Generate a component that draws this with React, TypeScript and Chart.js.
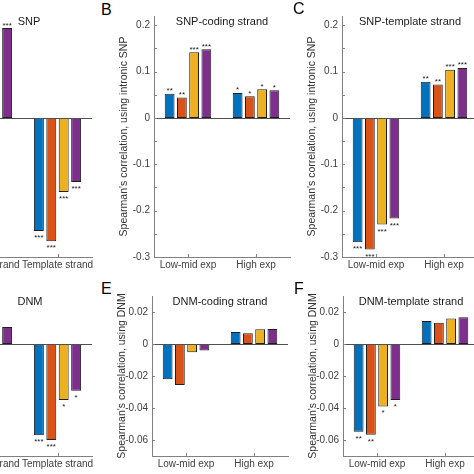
import React, { useEffect, useRef } from 'react';
import { Chart, registerables } from 'chart.js';

Chart.register(...registerables);

const FONT = '"Liberation Sans", Arial, Helvetica, sans-serif';
Chart.defaults.font.family = FONT;

// ---------- data ----------
const seriesColors = ['#0072BD', '#D95319', '#EDB120', '#7E2F8E'];
const strandCategories = ['Coding strand', 'Template strand'];
const expCategories = ['Low-mid exp', 'High exp'];

// each inner array: one colour series, values for [category 1, category 2]
const snpAll = [[0.12, -0.244], [0.11, -0.266], [0.19, -0.16], [0.194, -0.138]];
const snpAllStars = [['***', '***'], ['***', '***'], ['***', '***'], ['***', '***']];

const snpCoding = [[0.052, 0.054], [0.044, 0.047], [0.142, 0.062], [0.148, 0.06]];
const snpCodingStars = [['**', '*'], ['**', '*'], ['***', '*'], ['***', '*']];

const snpTemplate = [[-0.268, 0.078], [-0.284, 0.072], [-0.23, 0.104], [-0.217, 0.108]];
const snpTemplateStars = [['***', '**'], ['***', '**'], ['***', '***'], ['***', '***']];

const dnmAll = [[0.005, -0.057], [0.004, -0.06], [0.008, -0.035], [0.0106, -0.0292]];
const dnmAllStars = [['', '***'], ['', '***'], ['', '*'], ['', '*']];

const dnmCoding = [[-0.022, 0.0075], [-0.0256, 0.0067], [-0.0052, 0.0092], [-0.004, 0.0094]];
const dnmCodingStars = [['', ''], ['', ''], ['', ''], ['', '']];

const dnmTemplate = [[-0.0548, 0.0144], [-0.0567, 0.0133], [-0.039, 0.016], [-0.035, 0.0167]];
const dnmTemplateStars = [['**', ''], ['**', ''], ['*', ''], ['*', '']];

const snpRange = [-0.3, 0.22];
const snpTickValues = [-0.3, -0.25, -0.2, -0.15, -0.1, -0.05, 0, 0.05, 0.1, 0.15, 0.2];
const snpTickLabels = ['-0.3', '', '-0.2', '', '-0.1', '', '0', '', '0.1', '', '0.2'];

const dnmRange = [-0.07, 0.03];
const dnmTickValues = [-0.06, -0.04, -0.02, 0, 0.02];
const dnmTickLabels = ['-0.06', '-0.04', '-0.02', '0', '0.02'];

const snpYTitle = "Spearman's correlation, using intronic SNP";
const dnmYTitle = "Spearman's correlation, using DNM";

// ---------- layout ----------
const YW = 36; // y-axis box width
const PT = 12; // top padding
const PR = 6; // right padding
const XH = 22; // x-axis box height

type Area = { l: number; r: number; t: number; b: number };

type PanelProps = {
  area: Area;
  labels: string[];
  values: number[][];
  stars: string[][];
  title: string;
  titleDx?: number;
  yTitle: string | null;
  range: number[];
  tickValues: number[];
  tickLabels: string[];
  showY: boolean;
};

function Panel(p: PanelProps) {
  const ref = useRef<HTMLCanvasElement | null>(null);
  const w = p.area.r - p.area.l + YW + PR;
  const h = p.area.b - p.area.t + PT + XH;

  useEffect(() => {
    if (!ref.current) return;
    const decor = {
      id: 'decor',
      afterDatasetsDraw(chart: any) {
        const { ctx, chartArea } = chart;
        const { left, right, top, bottom } = chartArea;
        const x = chart.scales.x;
        const y = chart.scales.y;
        ctx.save();
        // baseline at zero
        const y0 = Math.round(y.getPixelForValue(0)) + 0.5;
        ctx.strokeStyle = '#505050';
        ctx.lineWidth = 1;
        ctx.beginPath();
        ctx.moveTo(left, y0);
        ctx.lineTo(right, y0);
        ctx.stroke();
        // inward tick marks
        ctx.strokeStyle = '#808080';
        ctx.beginPath();
        y.ticks.forEach((t: any) => {
          const py = Math.round(y.getPixelForValue(t.value)) + 0.5;
          ctx.moveTo(left, py);
          ctx.lineTo(left + 3, py);
        });
        x.ticks.forEach((_t: any, i: number) => {
          const px = Math.round(x.getPixelForTick(i)) + 0.5;
          ctx.moveTo(px, bottom);
          ctx.lineTo(px, bottom - 3);
        });
        ctx.stroke();
        // significance stars
        ctx.font = `8px ${FONT}`;
        ctx.fillStyle = '#1a1a1a';
        ctx.textAlign = 'center';
        ctx.textBaseline = 'alphabetic';
        chart.data.datasets.forEach((ds: any, i: number) => {
          const meta = chart.getDatasetMeta(i);
          meta.data.forEach((el: any, j: number) => {
            const s = p.stars[i] && p.stars[i][j];
            if (!s) return;
            const v = ds.data[j];
            const yy = v >= 0 ? el.y - 0.5 : el.y + 9;
            ctx.fillText(s, el.x, yy);
          });
        });
        // panel title
        ctx.font = `11px ${FONT}`;
        ctx.fillStyle = '#1a1a1a';
        ctx.textBaseline = 'middle';
        ctx.fillText(p.title, (left + right) / 2 + (p.titleDx || 0), top + 6);
        ctx.restore();
      },
    };

    const chart = new Chart(ref.current, {
      type: 'bar',
      data: {
        labels: p.labels,
        datasets: p.values.map((v, i) => ({
          data: v,
          backgroundColor: seriesColors[i],
          borderColor: '#1f1f1f',
          borderWidth: 1,
          borderSkipped: false,
          categoryPercentage: 0.72,
          barPercentage: 0.8,
        })),
      },
      options: {
        responsive: false,
        maintainAspectRatio: false,
        animation: false,
        events: [],
        layout: { padding: { top: PT, right: PR, left: 0, bottom: 0 } },
        plugins: {
          legend: { display: false },
          tooltip: { enabled: false },
          title: { display: false },
        },
        scales: {
          x: {
            type: 'category',
            offset: true,
            grid: { display: false, drawTicks: false },
            border: { display: true, color: '#808080', width: 1 },
            ticks: {
              font: { size: 10, family: FONT },
              color: '#404040',
              padding: 2,
              maxRotation: 0,
              autoSkip: false,
            },
            afterFit: (s: any) => {
              s.height = XH;
            },
          },
          y: {
            type: 'linear',
            min: p.range[0],
            max: p.range[1],
            grid: { display: false, drawTicks: false },
            border: { display: true, color: '#808080', width: 1 },
            ticks: {
              display: p.showY,
              font: { size: 10, family: FONT },
              color: '#404040',
              padding: 4,
              callback: (_v: any, i: number) => p.tickLabels[i] ?? '',
            },
            afterBuildTicks: (s: any) => {
              s.ticks = p.tickValues.map((v) => ({ value: v }));
            },
            afterFit: (s: any) => {
              s.width = YW;
            },
            title: {
              display: !!p.yTitle,
              text: p.yTitle || '',
              font: { size: 10.5, family: FONT },
              color: '#333',
              padding: { top: 0, bottom: 0 },
            },
          },
        },
      } as any,
      plugins: [decor],
    });
    return () => chart.destroy();
  }, []);

  return (
    <canvas
      ref={ref}
      width={w}
      height={h}
      style={{
        position: 'absolute',
        left: p.area.l - YW,
        top: p.area.t - PT,
        width: w,
        height: h,
        display: 'block',
      }}
    />
  );
}

const letterStyle: React.CSSProperties = {
  position: 'absolute',
  fontFamily: FONT,
  fontSize: 16,
  color: '#000',
  lineHeight: 'normal',
};

export default function App() {
  return (
    <div
      style={{
        position: 'fixed',
        left: 0,
        top: 0,
        width: 474,
        height: 474,
        overflow: 'hidden',
        background: '#fff',
      }}
    >
      <Panel area={{ l: -46, r: 92, t: 16, b: 257 }} labels={strandCategories} values={snpAll} stars={snpAllStars}
        title="SNP" titleDx={6} yTitle={null} range={snpRange} tickValues={snpTickValues} tickLabels={snpTickLabels} showY={false} />
      <Panel area={{ l: 154, r: 290, t: 16, b: 257 }} labels={expCategories} values={snpCoding} stars={snpCodingStars}
        title="SNP-coding strand" yTitle={snpYTitle} range={snpRange} tickValues={snpTickValues} tickLabels={snpTickLabels} showY={true} />
      <Panel area={{ l: 342, r: 478, t: 16, b: 257 }} labels={expCategories} values={snpTemplate} stars={snpTemplateStars}
        title="SNP-template strand" yTitle={snpYTitle} range={snpRange} tickValues={snpTickValues} tickLabels={snpTickLabels} showY={true} />
      <Panel area={{ l: -46, r: 92, t: 296, b: 456 }} labels={strandCategories} values={dnmAll} stars={dnmAllStars}
        title="DNM" titleDx={7} yTitle={null} range={dnmRange} tickValues={dnmTickValues} tickLabels={dnmTickLabels} showY={false} />
      <Panel area={{ l: 152, r: 288, t: 296, b: 456 }} labels={expCategories} values={dnmCoding} stars={dnmCodingStars}
        title="DNM-coding strand" yTitle={dnmYTitle} range={dnmRange} tickValues={dnmTickValues} tickLabels={dnmTickLabels} showY={true} />
      <Panel area={{ l: 343, r: 479, t: 296, b: 456 }} labels={expCategories} values={dnmTemplate} stars={dnmTemplateStars}
        title="DNM-template strand" yTitle={dnmYTitle} range={dnmRange} tickValues={dnmTickValues} tickLabels={dnmTickLabels} showY={true} />
      <div style={{ ...letterStyle, left: 101, top: 1 }}>B</div>
      <div style={{ ...letterStyle, left: 293, top: 0 }}>C</div>
      <div style={{ ...letterStyle, left: 101, top: 280 }}>E</div>
      <div style={{ ...letterStyle, left: 294, top: 280 }}>F</div>
    </div>
  );
}
